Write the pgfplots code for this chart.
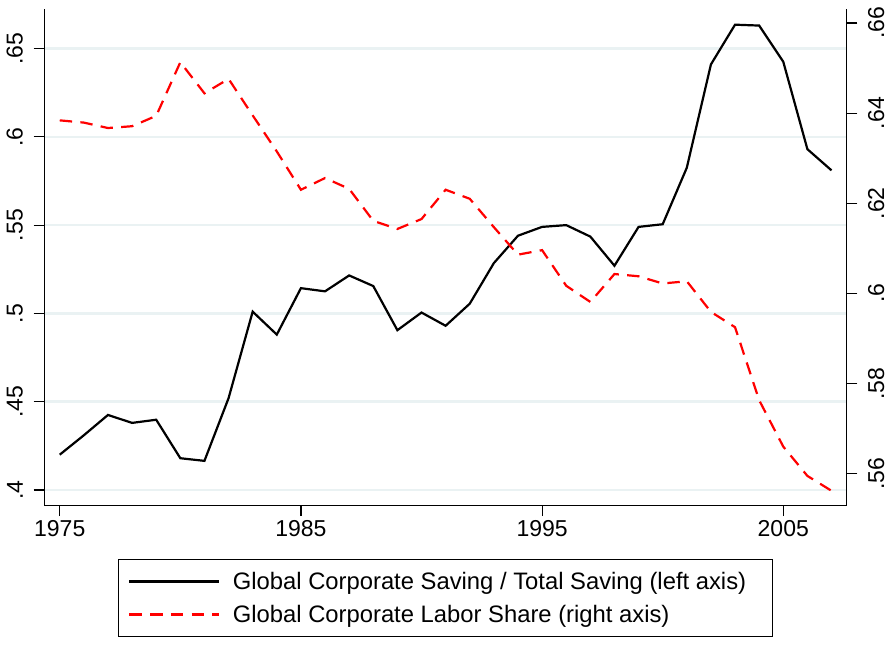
\documentclass[border=0pt]{standalone}
\usepackage{fontspec}
\setmainfont{Liberation Sans}
\usepackage{pgfplots}
\pgfplotsset{compat=1.18}
\definecolor{gridc}{RGB}{234,242,243}
\definecolor{sred}{RGB}{255,0,0}
\pgfplotstableread{
year v
1975 0.420
1976 0.431
1977 0.4425
1978 0.438
1979 0.4398
1980 0.418
1981 0.4165
1982 0.452
1983 0.501
1984 0.488
1985 0.5143
1986 0.5125
1987 0.5215
1988 0.5155
1989 0.4905
1990 0.5005
1991 0.493
1992 0.5055
1993 0.5285
1994 0.544
1995 0.549
1996 0.550
1997 0.5435
1998 0.527
1999 0.549
2000 0.5505
2001 0.5825
2002 0.641
2003 0.6635
2004 0.663
2005 0.6425
2006 0.593
2007 0.581
}\saving
\pgfplotstableread{
year v
1975 0.6384
1976 0.6379
1977 0.6367
1978 0.6371
1979 0.6394
1980 0.6513
1981 0.6444
1982 0.6476
1983 0.6395
1984 0.6315
1985 0.6230
1986 0.6256
1987 0.6232
1988 0.6161
1989 0.6143
1990 0.6165
1991 0.6230
1992 0.6210
1993 0.6147
1994 0.6086
1995 0.6096
1996 0.6017
1997 0.5981
1998 0.6043
1999 0.6038
2000 0.6022
2001 0.6027
2002 0.5959
2003 0.5925
2004 0.5763
2005 0.5660
2006 0.5595
2007 0.5562
}\labor
\begin{document}
\begin{tikzpicture}[x=1pt,y=1pt]
\path[use as bounding box] (0,0) rectangle (896,667);
\pgfplotsset{
  common/.style={
    at={(44.3pt,161.7pt)}, anchor=south west,
    scale only axis, width=802.4pt, height=495.8pt,
    xmin=1974.36, xmax=2007.63,
    axis line style={-, line width=1.2pt, black},
    tick align=outside, major tick length=10.7pt,
    tick style={line width=1.2pt, black},
    tick label style={font=\fontsize{23}{27}\selectfont},
    /pgf/number format/assume math mode=true,
  }
}
\begin{axis}[common,
  ymin=0.39134, ymax=0.6721,
  axis x line*=bottom, axis y line*=left,
  xtick={1975,1985,1995,2005}, xticklabels={1975,1985,1995,2005},
  ytick={0.4,0.45,0.5,0.55,0.6,0.65}, yticklabels={.4,.45,.5,.55,.6,.65},
  yticklabel style={rotate=90, anchor=south, inner sep=0pt},
  yticklabel shift=10.5pt,
  xticklabel style={anchor=north, inner sep=0pt},
  xticklabel shift=4pt,
  ymajorgrids, grid style={line width=2.6pt, color=gridc},
  legend style={at={(0.09222,-0.10892)}, anchor=north west,
    draw=black, line width=1pt, inner xsep=9.5pt, inner ysep=8.8pt,
    font=\fontsize{23.8}{27}\selectfont,
    nodes={inner sep=0pt, text height=21pt, text depth=4.8pt},
    row sep=7.1pt,
    /tikz/every odd column/.append style={column sep=13pt}},
  legend cell align=left,
  legend image code/.code={\draw[#1] (0pt,0pt) -- (89.4pt,0pt);},
]
\addplot[black, line width=2.2pt] table[x=year,y=v] {\saving};
\addlegendentry{Global Corporate Saving / Total Saving (left axis)\rule{17pt}{0pt}}
\addlegendimage{sred, line width=2.2pt, dash pattern=on 12.4pt off 8.3pt}
\addlegendentry{Global Corporate Labor Share (right axis)}
\end{axis}
\begin{axis}[common,
  ymin=0.55298, ymax=0.6630,
  axis x line=none, axis y line*=right,
  ytick={0.56,0.58,0.6,0.62,0.64,0.66}, yticklabels={.56,.58,.6,.62,.64,.66},
  yticklabel style={rotate=90, anchor=north, inner sep=0pt},
  yticklabel shift=10.5pt,
]
\addplot[sred, line width=2.2pt, dash pattern=on 12.4pt off 8.3pt] table[x=year,y=v] {\labor};
\end{axis}
\end{tikzpicture}
\end{document}
